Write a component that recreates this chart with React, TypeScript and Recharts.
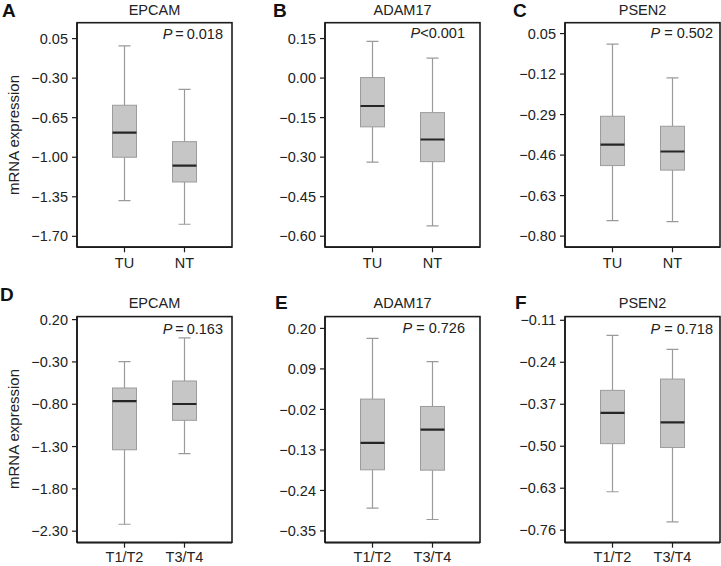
import React from 'react';
import { ComposedChart, Bar, XAxis, YAxis } from 'recharts';

// box stats per group: [min, q1, median, q3, max]
const groupsTissue = ['TU', 'NT'];
const groupsStage = ['T1/T2', 'T3/T4'];

const epcamTissue = [
    [-1.384, -1.0, -0.782, -0.54, -0.015],
    [-1.593, -1.219, -1.074, -0.862, -0.399],
];
const adam17Tissue = [
    [-0.319, -0.185, -0.106, 0.002, 0.139],
    [-0.561, -0.317, -0.233, -0.131, 0.076],
];
const psen2Tissue = [
    [-0.735, -0.504, -0.416, -0.297, 0.006],
    [-0.739, -0.523, -0.445, -0.339, -0.136],
];
const epcamStage = [
    [-2.218, -1.338, -0.762, -0.608, -0.297],
    [-1.384, -0.99, -0.797, -0.525, -0.015],
];
const adam17Stage = [
    [-0.288, -0.184, -0.111, 0.008, 0.173],
    [-0.319, -0.185, -0.075, -0.012, 0.11],
];
const psen2Stage = [
    [-0.641, -0.492, -0.397, -0.327, -0.157],
    [-0.734, -0.504, -0.426, -0.292, -0.2],
];

const ticksA = [0.05, -0.3, -0.65, -1.0, -1.35, -1.7];
const ticksB = [0.15, 0.0, -0.15, -0.3, -0.45, -0.6];
const ticksC = [0.05, -0.12, -0.29, -0.46, -0.63, -0.8];
const ticksD = [0.2, -0.3, -0.8, -1.3, -1.8, -2.3];
const ticksE = [0.2, 0.09, -0.02, -0.13, -0.24, -0.35];
const ticksF = [-0.11, -0.24, -0.37, -0.5, -0.63, -0.76];

const pValues = ['\u2009=\u20090.018', '<0.001', ' = 0.502', '\u2009=\u20090.163', ' = 0.726', ' = 0.718'];

const FONT = '"Liberation Sans", Arial, Helvetica, sans-serif';
const FRAME = '#1c1c1c';
const Y_W = 60;
const PLOT_W = 155;
const TOP_PAD = 12;

interface Row {
    name: string;
    min: number;
    q1: number;
    median: number;
    q3: number;
    max: number;
}

const toRows = (groups: string[], stats: number[][]): Row[] =>
    groups.map((name, i) => {
        const [min, q1, median, q3, max] = stats[i];
        return { name, min, q1, median, q3, max };
    });

const fmt = (v: number) => v.toFixed(2).replace('-', '\u2212');

// draws the whole box plot inside the [min, max] range bar
const BoxShape = (props: any) => {
    const { x, y, width, height, payload } = props;
    if (!payload) return null;
    const top = Math.min(y, y + height);
    const bottom = Math.max(y, y + height);
    const span = payload.max - payload.min;
    const py = (v: number) => top + ((payload.max - v) / span) * (bottom - top);
    const cx = x + width / 2;
    const cap = width / 4;
    const whisker = '#9a9a9a';
    return (
        <g>
            <line x1={cx} x2={cx} y1={py(payload.max)} y2={py(payload.q3)} stroke={whisker} strokeWidth={1.2} />
            <line x1={cx} x2={cx} y1={py(payload.q1)} y2={py(payload.min)} stroke={whisker} strokeWidth={1.2} />
            <line x1={cx - cap} x2={cx + cap} y1={py(payload.max)} y2={py(payload.max)} stroke={whisker} strokeWidth={1.2} />
            <line x1={cx - cap} x2={cx + cap} y1={py(payload.min)} y2={py(payload.min)} stroke={whisker} strokeWidth={1.2} />
            <rect
                x={x}
                y={py(payload.q3)}
                width={width}
                height={py(payload.q1) - py(payload.q3)}
                fill="#c6c6c6"
                stroke="#9c9c9c"
                strokeWidth={1}
            />
            <line x1={x} x2={x + width} y1={py(payload.median)} y2={py(payload.median)} stroke="#262626" strokeWidth={2.2} />
        </g>
    );
};

interface Panel {
    letter: string;
    title: string;
    groups: string[];
    stats: number[][];
    ticks: number[];
    domain: [number, number];
    p: string;
    left: number;
    top: number;
    h: number;
    xMargin: number;
    letterX: number;
    letterY: number;
    titleY: number;
    pX: number;
    pY: number;
}

const panels: Panel[] = [
    { letter: 'A', title: 'EPCAM', groups: groupsTissue, stats: epcamTissue, ticks: ticksA, domain: [-1.797, 0.188], p: pValues[0], left: 77, top: 22.7, h: 224.3, xMargin: 5, letterX: 2, letterY: 17, titleY: 15, pX: 223, pY: 38.5 },
    { letter: 'B', title: 'ADAM17', groups: groupsTissue, stats: adam17Tissue, ticks: ticksB, domain: [-0.642, 0.209], p: pValues[1], left: 325, top: 22.7, h: 224.3, xMargin: 5, letterX: 273, letterY: 17, titleY: 15, pX: 465, pY: 38 },
    { letter: 'C', title: 'PSEN2', groups: groupsTissue, stats: psen2Tissue, ticks: ticksC, domain: [-0.847, 0.0944], p: pValues[2], left: 565, top: 22.7, h: 224.3, xMargin: 5, letterX: 513, letterY: 17, titleY: 15, pX: 713, pY: 38 },
    { letter: 'D', title: 'EPCAM', groups: groupsStage, stats: epcamStage, ticks: ticksD, domain: [-2.436, 0.231], p: pValues[3], left: 77, top: 316.6, h: 225.7, xMargin: 4.5, letterX: 0, letterY: 301, titleY: 307.5, pX: 223, pY: 334 },
    { letter: 'E', title: 'ADAM17', groups: groupsStage, stats: adam17Stage, ticks: ticksE, domain: [-0.382, 0.231], p: pValues[4], left: 325, top: 316.6, h: 225.7, xMargin: 4.5, letterX: 275, letterY: 309, titleY: 307.5, pX: 465, pY: 333 },
    { letter: 'F', title: 'PSEN2', groups: groupsStage, stats: psen2Stage, ticks: ticksF, domain: [-0.7987, -0.0998], p: pValues[5], left: 565, top: 316.6, h: 225.7, xMargin: 4.5, letterX: 515, letterY: 308.5, titleY: 307.5, pX: 713, pY: 334 },
];

const BoxPanel = ({ panel }: { panel: Panel }) => {
    const data = toRows(panel.groups, panel.stats);
    const axisLine = { stroke: FRAME, strokeWidth: 1.6 };
    const tick = { fontSize: 14.5, fill: '#222', fontFamily: FONT };
    return (
        <div style={{ position: 'absolute', left: panel.left - Y_W, top: panel.top - TOP_PAD }}>
            <ComposedChart
                width={Y_W + PLOT_W + 3}
                height={TOP_PAD + panel.h + 30}
                data={data}
                margin={{ top: TOP_PAD, right: 3, bottom: 0, left: 0 }}
            >
                <XAxis
                    dataKey="name"
                    type="category"
                    interval={0}
                    padding={{ left: 17.5, right: 17.5 }}
                    tickSize={5}
                    tickMargin={panel.xMargin}
                    height={30}
                    axisLine={axisLine}
                    tickLine={{ stroke: FRAME, strokeWidth: 1.2 }}
                    tick={tick}
                />
                <YAxis
                    type="number"
                    domain={panel.domain}
                    ticks={panel.ticks}
                    interval={0}
                    allowDataOverflow
                    width={Y_W}
                    tickSize={5}
                    tickMargin={4}
                    tickFormatter={fmt}
                    axisLine={axisLine}
                    tickLine={{ stroke: FRAME, strokeWidth: 1.2 }}
                    tick={tick}
                />
                <Bar
                    dataKey={(d: Row) => [d.min, d.max]}
                    barSize={24}
                    shape={BoxShape}
                    isAnimationActive={false}
                />
            </ComposedChart>
        </div>
    );
};

const App = () => {
    return (
        <div
            style={{
                position: 'absolute',
                left: 0,
                top: 0,
                width: 721,
                height: 566,
                overflow: 'hidden',
                background: '#fff',
                fontFamily: FONT,
            }}
        >
            {panels.map((panel) => (
                <BoxPanel key={panel.letter} panel={panel} />
            ))}
            <svg
                width={721}
                height={566}
                style={{ position: 'absolute', left: 0, top: 0, pointerEvents: 'none' }}
                fontFamily={FONT}
            >
                {panels.map((panel) => (
                    <g key={panel.letter}>
                        <rect
                            x={panel.left}
                            y={panel.top}
                            width={Math.min(PLOT_W, 720.2 - panel.left)}
                            height={panel.h}
                            fill="none"
                            stroke={FRAME}
                            strokeWidth={1.6}
                        />
                        <text x={panel.letterX} y={panel.letterY} fontSize={19} fontWeight="bold" fill="#111">
                            {panel.letter}
                        </text>
                        <text x={panel.left + PLOT_W / 2} y={panel.titleY} fontSize={14.5} fill="#222" textAnchor="middle">
                            {panel.title}
                        </text>
                        <text x={panel.pX} y={panel.pY} fontSize={14.5} fill="#222" textAnchor="end">
                            <tspan fontStyle="italic">P</tspan>
                            {panel.p}
                        </text>
                    </g>
                ))}
                <text x={19} y={135} fontSize={15} fill="#222" textAnchor="middle" transform="rotate(-90 19 135)">
                    mRNA expression
                </text>
                <text x={19} y={429} fontSize={15} fill="#222" textAnchor="middle" transform="rotate(-90 19 429)">
                    mRNA expression
                </text>
            </svg>
        </div>
    );
};

export default App;
